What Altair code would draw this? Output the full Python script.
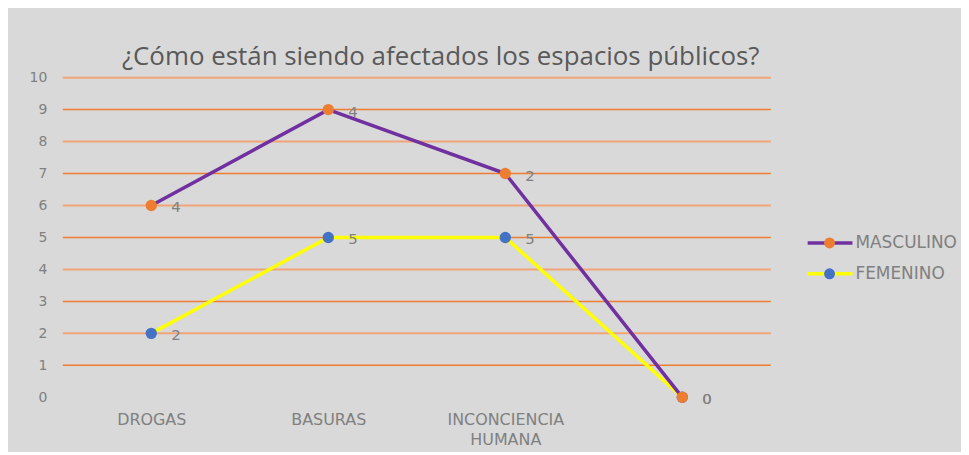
import altair as alt
import pandas as pd

categorias = ["DROGAS", "BASURAS", "INCONCIENCIA HUMANA", ""]
masculino = [4, 4, 2, 0]
femenino = [2, 5, 5, 0]
y_ticks = list(range(0, 11))

rows = []
for i, c in enumerate(categorias):
    rows.append({"cat": c, "serie": "FEMENINO", "valor": femenino[i], "pos": femenino[i], "orden": i})
    rows.append({"cat": c, "serie": "MASCULINO", "valor": masculino[i], "pos": femenino[i] + masculino[i], "orden": i})
df = pd.DataFrame(rows)

grid = pd.DataFrame({"pos": y_ticks[1:]})

FONT = "DejaVu Sans"
TFONT = "Open Sans"
GRAY = "#808080"

xenc = alt.X("cat:N", sort=categorias, scale=alt.Scale(paddingInner=0, paddingOuter=0),
             axis=alt.Axis(title=None, domain=False, ticks=False, labelAngle=0,
                           labelPadding=14, labelFontSize=16, labelColor=GRAY, labelFont=FONT,
                           labelExpr="datum.label == 'INCONCIENCIA HUMANA' ? ['INCONCIENCIA', 'HUMANA'] : datum.label",
                           labelLineHeight=20))
yscale = alt.Scale(domain=[0, 10], nice=False, zero=True)
yaxis = alt.Axis(title=None, domain=False, ticks=False, grid=False, values=y_ticks,
                 labelPadding=16, labelFontSize=14, labelColor=GRAY, labelFont=FONT)

grid_base = alt.Chart(grid).encode(y=alt.Y("pos:Q", scale=yscale, axis=yaxis))
rules_even = grid_base.transform_filter("datum.pos % 2 == 0").mark_rule(
    color="#F0A477", strokeWidth=2, opacity=1)
rules_odd = grid_base.transform_filter("datum.pos % 2 == 1").mark_rule(
    color="#ED7D31", strokeWidth=1.5, opacity=1)

base = alt.Chart(df).encode(x=xenc, y=alt.Y("pos:Q", scale=yscale, axis=yaxis))

fem = base.transform_filter("datum.serie == 'FEMENINO'")
mas = base.transform_filter("datum.serie == 'MASCULINO'")

line_f = fem.mark_line(color="#FFFF00", strokeWidth=3.5).encode(order="orden:Q")
line_m = mas.mark_line(color="#7030A0", strokeWidth=3.5).encode(order="orden:Q")
pt_f = fem.mark_circle(color="#4472C4", opacity=1, size=130)
pt_m = mas.mark_circle(color="#ED7D31", opacity=1, size=130)
txt = base.mark_text(align="left", baseline="middle", dx=20, dy=2, fontSize=15,
                     color=GRAY, font=FONT).encode(text="valor:Q")

# legend
leg_items = pd.DataFrame({"serie": ["MASCULINO", "FEMENINO"], "linea": ["#7030A0", "#FFFF00"],
                          "punto": ["#ED7D31", "#4472C4"], "yy": [166, 197]})
leg = alt.Chart(leg_items)
leg_line = leg.mark_rule(strokeWidth=3.5).encode(
    x=alt.value(748), x2=alt.value(793), y=alt.Y("yy:Q", scale=None),
    color=alt.Color("linea:N", scale=None))
leg_pt = leg.mark_circle(size=120, opacity=1).encode(
    x=alt.value(770), y=alt.Y("yy:Q", scale=None), color=alt.Color("punto:N", scale=None))
leg_txt = leg.mark_text(align="left", baseline="middle", fontSize=17, color=GRAY, font=FONT).encode(
    x=alt.value(796), y=alt.Y("yy:Q", scale=None), text="serie:N")

chart = alt.layer(rules_even, rules_odd, line_f, line_m, pt_f, pt_m, txt, leg_line, leg_pt, leg_txt).properties(
    width=711, height=321,
    title=alt.TitleParams("¿Cómo están siendo afectados los espacios públicos?", fontSize=26,
                          font=TFONT, fontWeight="normal", color="#595959", anchor="middle",
                          dx=24, offset=1),
    autosize=alt.AutoSizeParams(type="none"),
    padding={"left": 55, "top": 69, "right": 191, "bottom": 54},
).configure(background="#D9D9D9").configure_view(stroke=None, fill=None)

chart.save("out.html", embed_options={"renderer": "svg", "actions": False})
